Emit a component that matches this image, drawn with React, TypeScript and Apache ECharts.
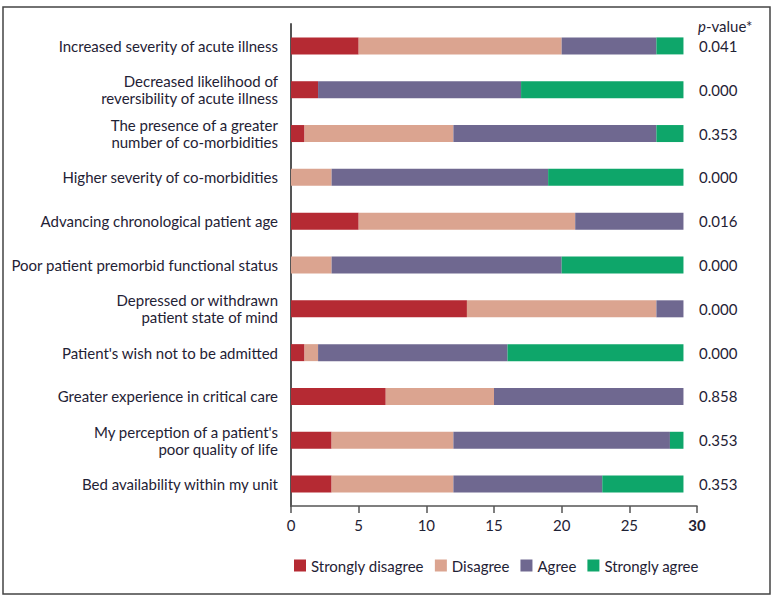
import React, { useEffect, useRef } from "react";
import * as echarts from "echarts";

const categories = [
  "Increased severity of acute illness",
  "Decreased likelihood of\nreversibility of acute illness",
  "The presence of a greater\nnumber of co-morbidities",
  "Higher severity of co-morbidities",
  "Advancing chronological patient age",
  "Poor patient premorbid functional status",
  "Depressed or withdrawn\npatient state of mind",
  "Patient's wish not to be admitted",
  "Greater experience in critical care",
  "My perception of a patient's\npoor quality of life",
  "Bed availability within my unit",
];
const stronglyDisagree = [5, 2, 1, 0, 5, 0, 13, 1, 7, 3, 3];
const disagree = [15, 0, 11, 3, 16, 3, 14, 1, 8, 9, 9];
const agree = [7, 15, 15, 16, 8, 17, 2, 14, 14, 16, 11];
const stronglyAgree = [2, 12, 2, 10, 0, 9, 0, 13, 0, 1, 6];
const pValues = ["0.041", "0.000", "0.353", "0.000", "0.016", "0.000", "0.000", "0.000", "0.858", "0.353", "0.353"];
const xTicks = [0, 5, 10, 15, 20, 25, 30];

const seriesNames = ["Strongly disagree", "Disagree", "Agree", "Strongly agree"];
const seriesData = [stronglyDisagree, disagree, agree, stronglyAgree];
const colors = ["#b52a33", "#dba490", "#6f6890", "#0ea66a"];

const FONT = "Lato";
const TEXT = "#1f2235";
const FS = 15;

export default function App() {
  const ref = useRef<HTMLDivElement>(null);
  useEffect(() => {
    if (!ref.current) return;
    const chart = echarts.init(ref.current, null, { renderer: "svg" });
    chart.setOption({
      animation: false,
      textStyle: { fontFamily: FONT, color: TEXT },
      grid: { left: 291, right: 79, top: 24, bottom: 93, containLabel: false },
      legend: {
        left: 289,
        top: 553,
        itemWidth: 12,
        itemHeight: 12,
        itemGap: 11,
        icon: "rect",
        textStyle: { fontFamily: FONT, fontSize: FS, color: TEXT },
        data: seriesNames,
      },
      xAxis: {
        type: "value",
        min: 0,
        max: 30,
        interval: 5,
        axisLine: { show: true, lineStyle: { color: "#555", width: 1.5 } },
        axisTick: { show: true, length: 7, lineStyle: { color: "#555", width: 1.5 } },
        splitLine: { show: false },
        axisLabel: {
          margin: 11,
          fontFamily: FONT,
          fontSize: FS,
          color: TEXT,
          formatter: (v: number) => (v === xTicks[xTicks.length - 1] ? `{b|${v}}` : `${v}`),
          rich: { b: { fontWeight: "bold", fontSize: FS, fontFamily: FONT, color: TEXT } },
        },
      },
      yAxis: [
        {
          type: "category",
          inverse: true,
          data: categories,
          axisLine: { show: true, lineStyle: { color: "#555", width: 2 } },
          axisTick: { show: false },
          axisLabel: {
            margin: 13,
            fontFamily: FONT,
            fontSize: FS,
            lineHeight: 17,
            color: TEXT,
            align: "right",
          },
        },
        {
          type: "category",
          inverse: true,
          position: "right",
          data: pValues,
          axisLine: { show: false },
          axisTick: { show: false },
          axisLabel: {
            margin: 2,
            fontFamily: FONT,
            fontSize: FS,
            color: TEXT,
            align: "left",
            padding: [4, 0, 0, 0],
          },
        },
      ],
      series: seriesData.map((d, i) => ({
        name: seriesNames[i],
        type: "bar",
        stack: "total",
        barWidth: 17,
        data: d,
        itemStyle: { color: colors[i] },
      })),
      graphic: [
        {
          type: "rect",
          shape: { x: 3, y: 7, width: 767, height: 587 },
          style: { fill: "none", stroke: "#444", lineWidth: 1.5 },
          silent: true,
        },
        {
          type: "text",
          left: 698,
          top: 18,
          style: {
            text: "{i|p}-value*",
            fontFamily: FONT,
            fontSize: FS,
            fill: TEXT,
            rich: { i: { fontStyle: "italic", fontFamily: FONT, fontSize: FS, fill: TEXT } },
          },
        },
      ],
    });
    return () => chart.dispose();
  }, []);
  return (
    <div
      ref={ref}
      style={{ position: "fixed", left: 0, top: 0, width: 776, height: 599, background: "#fff" }}
    />
  );
}
